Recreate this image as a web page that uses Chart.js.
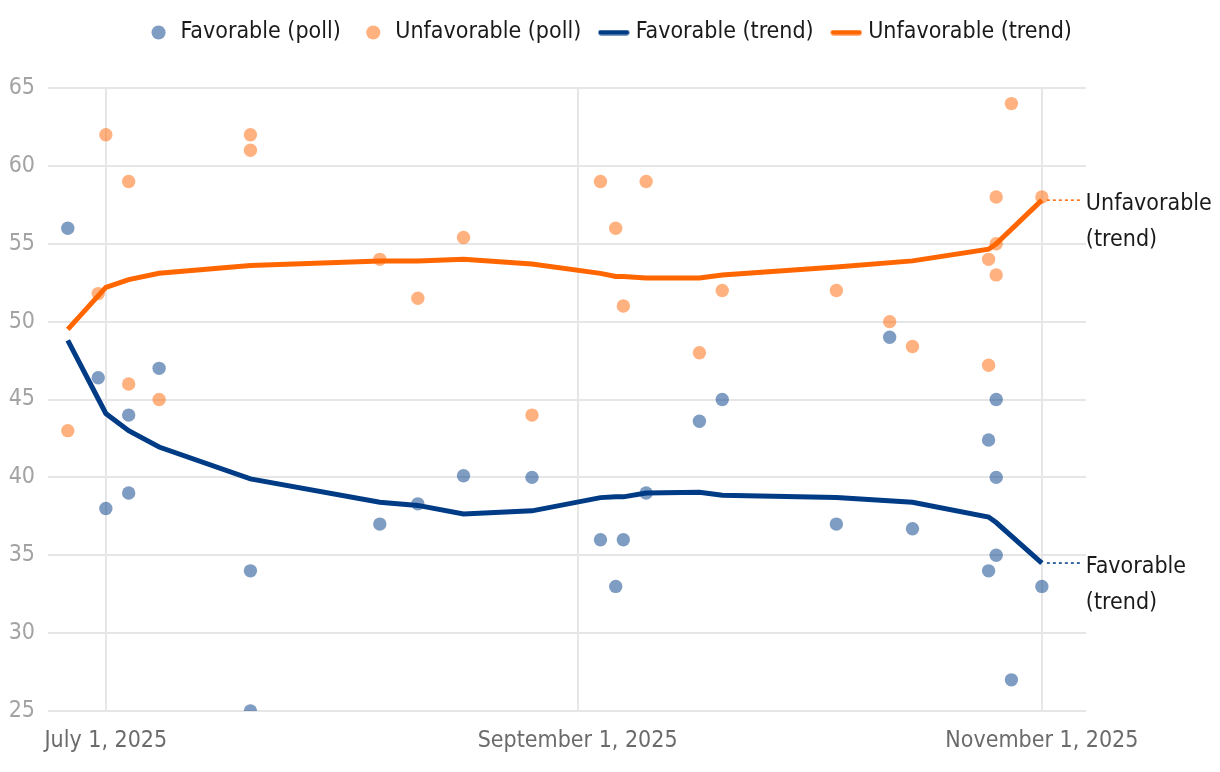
<!DOCTYPE html>
<html>
<head>
<meta charset="utf-8">
<script src="https://cdn.jsdelivr.net/npm/chart.js@4/dist/chart.umd.min.js"></script>
<style>
  html, body { margin: 0; padding: 0; background: #fff; }
  #wrap { width: 1220px; height: 772px; }
</style>
</head>
<body>
<div id="wrap"><canvas id="c" width="1220" height="772"></canvas></div>
<script>
// ---- Data ----
const pollDates = ['2025-06-26','2025-06-30','2025-07-01','2025-07-04','2025-07-04','2025-07-08','2025-07-20','2025-07-20',
  '2025-08-06','2025-08-11','2025-08-17','2025-08-26','2025-09-04','2025-09-06','2025-09-07','2025-09-10','2025-09-17',
  '2025-09-20','2025-10-05','2025-10-12','2025-10-15','2025-10-25','2025-10-25','2025-10-26','2025-10-26','2025-10-26',
  '2025-10-28','2025-11-01'];
const favorablePoll = [56, 46.4, 38, 44, 39, 47, 34, 25, 37, 38.3, 40.1, 40, 36, 33, 36, 39, 43.6, 45, 37, 49, 36.7,
  42.4, 34, 45, 40, 35, 27, 33];
const unfavorablePoll = [43, 51.8, 62, 59, 46, 45, 62, 61, 54, 51.5, 55.4, 44, 59, 56, 51, 59, 48, 52, 52, 50, 48.4,
  54, 47.2, 53, 55, 58, 64, 58];

const trendDates = ['2025-06-26','2025-07-01','2025-07-04','2025-07-08','2025-07-20','2025-08-06','2025-08-11','2025-08-17',
  '2025-08-26','2025-09-04','2025-09-06','2025-09-07','2025-09-10','2025-09-17','2025-09-20','2025-10-05','2025-10-15',
  '2025-10-25','2025-10-26','2025-11-01'];
const favorableTrend = [48.8, 44.1, 43.0, 41.95, 39.9, 38.4, 38.2, 37.65, 37.85, 38.7, 38.75, 38.75, 39.0, 39.05, 38.85,
  38.7, 38.4, 37.45, 37.1, 34.5];
const unfavorableTrend = [49.5, 52.2, 52.7, 53.1, 53.6, 53.9, 53.9, 54.0, 53.7, 53.1, 52.9, 52.9, 52.8, 52.8, 53.0,
  53.5, 53.9, 54.65, 55.0, 57.8];

const xTickDates = ['2025-07-01', '2025-09-01', '2025-11-01'];
const xTickLabels = ['July 1, 2025', 'September 1, 2025', 'November 1, 2025'];
const yTicks = [25, 30, 35, 40, 45, 50, 55, 60, 65];
const seriesNames = ['Favorable (poll)', 'Unfavorable (poll)', 'Favorable (trend)', 'Unfavorable (trend)'];
const endLabels = [['Favorable', '(trend)'], ['Unfavorable', '(trend)']];

// ---- helpers ----
const BASE = Date.UTC(2025, 6, 1);
function dayOf(s) {
  const [y, m, d] = s.split('-').map(Number);
  return (Date.UTC(y, m - 1, d) - BASE) / 86400000;
}
const pts = (dates, vals) => dates.map((d, i) => ({ x: dayOf(d), y: vals[i] }));

const FAV = '#003b85';
const UNF = '#ff6600';
const FAV_PT = 'rgba(0,59,133,0.5)';
const UNF_PT = 'rgba(255,102,0,0.5)';
const FONT = "'Liberation Sans Narrow', 'Arial Narrow', 'DejaVu Sans Condensed', sans-serif";
const FS = 23;

Chart.defaults.font.family = FONT;
Chart.defaults.font.size = FS;

function lineImg(color) {
  const c = document.createElement('canvas');
  c.width = 32; c.height = 6;
  const g = c.getContext('2d');
  g.strokeStyle = color; g.lineWidth = 5; g.lineCap = 'round';
  g.beginPath(); g.moveTo(3, 3); g.lineTo(29, 3); g.stroke();
  return c;
}
const legendLines = [lineImg(FAV), lineImg(UNF)];

const LAYOUT_TOP = -1;
const legendHeightPlugin = {
  id: 'legendHeight',
  beforeUpdate(chart) {
    const lg = chart.legend;
    if (lg && !lg._patched) {
      const f = lg.fit;
      lg.fit = function () { f.call(this); this.height = 88 - LAYOUT_TOP; };
      lg._patched = true;
    }
  }
};

const endLabelPlugin = {
  id: 'endLabels',
  afterDatasetsDraw(chart) {
    const ctx = chart.ctx;
    [2, 3].forEach((di, k) => {
      const meta = chart.getDatasetMeta(di);
      const last = meta.data[meta.data.length - 1];
      const x = last.x, y = last.y;
      const color = chart.data.datasets[di].borderColor;
      ctx.save();
      ctx.strokeStyle = color;
      ctx.lineWidth = 1.5;
      ctx.setLineDash([3, 3]);
      ctx.beginPath();
      ctx.moveTo(x + 5, y);
      ctx.lineTo(x + 38, y);
      ctx.stroke();
      ctx.setLineDash([]);
      ctx.fillStyle = '#1a1a1a';
      ctx.font = FS + 'px ' + FONT;
      ctx.textAlign = 'left';
      ctx.textBaseline = 'middle';
      ctx.fillText(endLabels[k][0], x + 44, y + 4);
      ctx.fillText(endLabels[k][1], x + 44, y + 40);
      ctx.restore();
    });
  }
};

new Chart(document.getElementById('c'), {
  type: 'scatter',
  data: {
    datasets: [
      { label: seriesNames[0], data: pts(pollDates, favorablePoll), backgroundColor: FAV_PT, borderColor: FAV_PT,
        pointRadius: 6.7, pointBorderWidth: 0, pointHoverRadius: 6.7, order: 3 },
      { label: seriesNames[1], data: pts(pollDates, unfavorablePoll), backgroundColor: UNF_PT, borderColor: UNF_PT,
        pointRadius: 6.7, pointBorderWidth: 0, pointHoverRadius: 6.7, order: 2 },
      { type: 'line', label: seriesNames[2], data: pts(trendDates, favorableTrend), borderColor: FAV, backgroundColor: FAV,
        borderWidth: 5, pointRadius: 0, tension: 0, fill: false, order: 1, borderJoinStyle: 'miter' },
      { type: 'line', label: seriesNames[3], data: pts(trendDates, unfavorableTrend), borderColor: UNF, backgroundColor: UNF,
        borderWidth: 5, pointRadius: 0, tension: 0, fill: false, order: 0, borderJoinStyle: 'miter' }
    ]
  },
  options: {
    responsive: false,
    animation: false,
    layout: { padding: { left: 0, right: 0, top: LAYOUT_TOP, bottom: 0 } },
    plugins: {
      tooltip: { enabled: false },
      legend: {
        position: 'top',
        labels: {
          usePointStyle: true,
          boxWidth: 21,
          boxHeight: 10,
          padding: 22,
          color: '#1a1a1a',
          font: { size: FS },
          sort: (a, b) => a.datasetIndex - b.datasetIndex,
          generateLabels(chart) {
            const items = Chart.defaults.plugins.legend.labels.generateLabels(chart);
            items.forEach(it => {
              if (it.datasetIndex === 2) it.pointStyle = legendLines[0];
              else if (it.datasetIndex === 3) it.pointStyle = legendLines[1];
              else { it.pointStyle = 'circle'; it.lineWidth = 0; }
            });
            return items;
          }
        }
      }
    },
    scales: {
      x: {
        type: 'linear',
        min: -7.6,
        max: 128.8,
        afterBuildTicks(scale) { scale.ticks = xTickDates.map(d => ({ value: dayOf(d) })); },
        afterFit(scale) { scale.height = 61; },
        ticks: {
          color: '#6b6b6b',
          padding: 16,
          maxRotation: 0,
          autoSkip: false,
          font: { size: FS },
          callback(v) { const i = xTickDates.findIndex(d => dayOf(d) === v); return i >= 0 ? xTickLabels[i] : ''; }
        },
        grid: { color: '#e6e6e6', lineWidth: 2, drawTicks: false },
        border: { display: false }
      },
      y: {
        min: 25,
        max: 65,
        afterBuildTicks(scale) { scale.ticks = yTicks.map(v => ({ value: v })); },
        afterFit(scale) { scale.width = 48; },
        ticks: { color: '#a3a3a3', padding: 13, font: { size: FS } },
        grid: { color: '#e6e6e6', lineWidth: 2, drawTicks: false },
        border: { display: false }
      },
      y2: {
        position: 'right',
        min: 25,
        max: 65,
        afterFit(scale) { scale.width = 134; },
        ticks: { display: false },
        grid: { display: false, drawTicks: false },
        border: { display: false }
      }
    }
  },
  plugins: [legendHeightPlugin, endLabelPlugin]
});
</script>
</body>
</html>
